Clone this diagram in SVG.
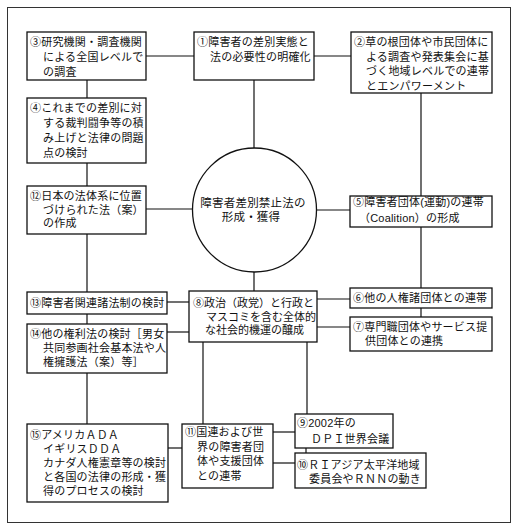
<svg xmlns="http://www.w3.org/2000/svg" width="519" height="528" viewBox="0 0 519 528">
<style>
.b{fill:#fff;stroke:#111;stroke-width:1.3}
.c line{stroke:#111;stroke-width:1.2}
text{font-family:"Liberation Sans","Noto Sans CJK JP",sans-serif;font-size:11px;letter-spacing:0.2px;fill:#111}
</style>
<rect x="0" y="0" width="519" height="528" fill="#fff"/>
<rect x="7.5" y="7.5" width="503" height="515" fill="none" stroke="#333" stroke-width="1"/>
<g id="connectors" class="c">
<line x1="146" y1="56" x2="194" y2="56"/>
<line x1="314" y1="56" x2="351" y2="56"/>
<line x1="87" y1="80" x2="87" y2="98"/>
<line x1="87" y1="163" x2="87" y2="186"/>
<line x1="254" y1="80" x2="254" y2="148"/>
<line x1="421" y1="93" x2="421" y2="196"/>
<line x1="146" y1="209" x2="192.5" y2="209"/>
<line x1="316.5" y1="210" x2="350" y2="210"/>
<line x1="87" y1="234" x2="87" y2="292"/>
<line x1="254" y1="272" x2="254" y2="291"/>
<line x1="421" y1="227" x2="421" y2="288"/>
<line x1="167" y1="302" x2="189" y2="302"/>
<line x1="317" y1="299" x2="350" y2="299"/>
<line x1="421" y1="308" x2="421" y2="317"/>
<line x1="317" y1="327" x2="350" y2="327"/>
<line x1="87" y1="314" x2="87" y2="324"/>
<line x1="167" y1="332" x2="189" y2="332"/>
<line x1="87" y1="373" x2="87" y2="424"/>
<line x1="203" y1="342" x2="203" y2="424"/>
<line x1="307" y1="342" x2="307" y2="414"/>
<line x1="168" y1="448" x2="182" y2="448"/>
<line x1="273" y1="432" x2="295" y2="432"/>
<line x1="306" y1="448" x2="306" y2="453"/>
<line x1="273" y1="463" x2="295" y2="463"/>
</g>
<g id="center">
<circle cx="254.5" cy="210" r="62" fill="#fff" stroke="#111" stroke-width="1.3"/>
<text x="253" y="207" text-anchor="middle" style="font-size:11.5px">障害者差別禁止法の</text>
<text x="251" y="221" text-anchor="middle" style="font-size:11.5px">形成・獲得</text>
</g>
<g id="n1">
<rect class="b" x="194" y="32" width="120" height="48"/>
<text x="197" y="46">①障害者の差別実態と</text>
<text x="210" y="61">法の必要性の明確化</text>
</g>
<g id="n2">
<rect class="b" x="351" y="32" width="141" height="61"/>
<text x="354" y="46">②草の根団体や市民団体に</text>
<text x="366" y="60.5">よる調査や発表集会に基</text>
<text x="366" y="75">づく地域レベルでの連帯</text>
<text x="366" y="89.5">とエンパワーメント</text>
</g>
<g id="n3">
<rect class="b" x="27" y="32" width="119" height="48"/>
<text x="30" y="46">③研究機関・調査機関</text>
<text x="43" y="61">による全国レベルで</text>
<text x="43" y="76">の調査</text>
</g>
<g id="n4">
<rect class="b" x="27" y="98" width="119" height="65"/>
<text x="30" y="112">④これまでの差別に対</text>
<text x="43" y="127">する裁判闘争等の積</text>
<text x="43" y="142">み上げと法律の問題</text>
<text x="43" y="157">点の検討</text>
</g>
<g id="n5">
<rect class="b" x="350" y="196" width="142" height="31"/>
<text x="353" y="206">⑤障害者団体(運動)の連帯</text>
<text x="359" y="222">（Coalition）の形成</text>
</g>
<g id="n6">
<rect class="b" x="350" y="288" width="142" height="20"/>
<text x="353" y="302">⑥他の人権諸団体との連帯</text>
</g>
<g id="n7">
<rect class="b" x="350" y="317" width="142" height="34"/>
<text x="353" y="331">⑦専門職団体やサービス提</text>
<text x="365" y="345">供団体との連携</text>
</g>
<g id="n8">
<rect class="b" x="189" y="291" width="128" height="51"/>
<text x="193" y="307" style="letter-spacing:0">⑧政治（政党）と行政と</text>
<text x="206" y="320.5" style="letter-spacing:0">マスコミを含む全体的</text>
<text x="205" y="334" style="letter-spacing:0">な社会的機運の醸成</text>
</g>
<g id="n9">
<rect class="b" x="295" y="414" width="98" height="34"/>
<text x="297" y="427">⑨2002年の</text>
<text x="311" y="443">ＤＰＩ世界会議</text>
</g>
<g id="n10">
<rect class="b" x="295" y="453" width="131" height="35"/>
<text x="297" y="468.5">⑩ＲＩアジア太平洋地域</text>
<text x="309" y="482.5">委員会やＲＮＮの動き</text>
</g>
<g id="n11">
<rect class="b" x="182" y="424" width="91" height="64"/>
<text x="185" y="436">⑪国連および世</text>
<text x="197" y="450.5">界の障害者団</text>
<text x="197" y="465">体や支援団体</text>
<text x="197" y="479.5">との連帯</text>
</g>
<g id="n12">
<rect class="b" x="27" y="186" width="119" height="48"/>
<text x="30" y="200">⑫日本の法体系に位置</text>
<text x="43" y="213.5">づけられた法（案）</text>
<text x="43" y="227">の作成</text>
</g>
<g id="n13">
<rect class="b" x="27" y="292" width="140" height="22"/>
<text x="30" y="307">⑬障害者関連諸法制の検討</text>
</g>
<g id="n14">
<rect class="b" x="27" y="324" width="140" height="49"/>
<text x="30" y="338">⑭他の権利法の検討［男女</text>
<text x="43" y="352">共同参画社会基本法や人</text>
<text x="43" y="366">権擁護法（案）等］</text>
</g>
<g id="n15">
<rect class="b" x="27" y="424" width="141" height="78"/>
<text x="30" y="439">⑮アメリカＡＤＡ</text>
<text x="43" y="453">イギリスＤＤＡ</text>
<text x="43" y="467">カナダ人権憲章等の検討</text>
<text x="43" y="481">と各国の法律の形成・獲</text>
<text x="43" y="495">得のプロセスの検討</text>
</g>
</svg>
